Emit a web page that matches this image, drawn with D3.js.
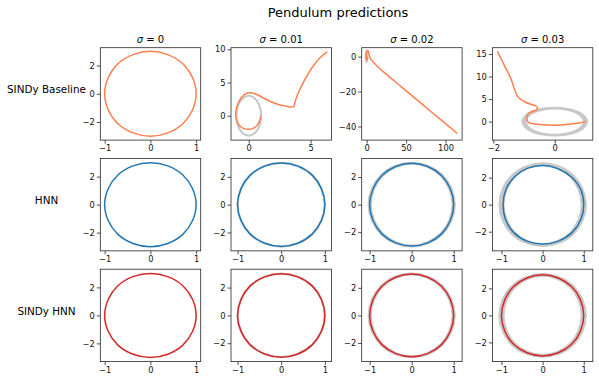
<!DOCTYPE html>
<html>
<head>
<meta charset="utf-8">
<title>Pendulum predictions</title>
<script src="https://cdn.jsdelivr.net/npm/d3@7"></script>
<style>
body { margin: 0; background: #fff; }
text { font-family: "DejaVu Sans", sans-serif; }
</style>
</head>
<body>
<script>
// labels
var rowLabels = ["SINDy Baseline", "HNN", "SINDy HNN"];
var sigmas = [0, 0.01, 0.02, 0.03];
var lineColors = ["#ff7f50", "#1f77b4", "#d62728"];

// true trajectory (q, p)
var trueOrbit = [[1, 0], [0.92, 1.15], [0.71, 2.12], [0.38, 2.77], [0, 3], [-0.38, 2.77], [-0.71, 2.12], [-0.92, 1.15],
                 [-1, 0], [-0.92, -1.15], [-0.71, -2.12], [-0.38, -2.77], [0, -3], [0.38, -2.77], [0.71, -2.12], [0.92, -1.15]];
// HNN prediction at sigma = 0.03 (slightly shrunk)
var hnnOrbit03 = [[1.0, 0], [0.93, 1.1], [0.7, 2.05], [0.36, 2.68], [0.02, 2.9], [-0.36, 2.7], [-0.68, 2.07], [-0.89, 1.12],
                  [-0.96, 0.05], [-0.9, -1.1], [-0.7, -2.07], [-0.37, -2.72], [0.02, -2.92], [0.38, -2.7], [0.72, -2.05], [0.93, -1.1]];
// SINDy baseline predictions
var baseline01 = [[1.0, 0.0], [0.75, -1.3], [0.35, -1.9], [0, -2.05], [-0.45, -1.9], [-0.85, -1.2], [-1.05, 0], [-0.95, 1.4],
                  [-0.6, 2.7], [-0.2, 3.35], [0.2, 3.45], [0.7, 3.15], [1.2, 2.65], [1.8, 2.1], [2.4, 1.7], [3.0, 1.45],
                  [3.45, 1.3], [3.65, 1.4], [3.75, 2.1], [3.95, 3.2], [4.3, 4.6], [4.8, 6.3], [5.3, 7.7], [5.8, 8.8], [6.35, 9.6]];
var baseline02 = [[1, 0], [0.4, -1.8], [-0.5, -1.5], [-0.8, 0.5], [-0.2, 2.5], [0.8, 3.5], [1.6, 3.3], [3, 1.3], [4.5, -0.9],
                  [8, -3], [14, -5.8], [21, -8.6], [40, -15.8], [60, -23.3], [84, -32.4], [100, -38.4], [115, -44]];
var baseline03 = [[-1.87, 15.6], [-1.75, 14.0], [-1.65, 12.6], [-1.53, 11.0], [-1.43, 9.6], [-1.32, 7.4], [-1.21, 5.6],
                  [-1.08, 4.8], [-0.95, 4.3], [-0.75, 3.8], [-0.6, 3.4], [-0.57, 2.7], [-0.7, 2.3], [-0.84, 1.9], [-0.91, 0.8],
                  [-0.86, -0.15], [-0.7, -0.45], [-0.46, -0.66], [0, -0.8], [0.5, -0.55], [0.8, -0.3], [1.02, 0.05]];

var predictions = [
  [trueOrbit, baseline01, baseline02, baseline03],
  [trueOrbit, trueOrbit, trueOrbit, hnnOrbit03],
  [trueOrbit, trueOrbit, trueOrbit, trueOrbit]
];

// axis limits and ticks
var xDomTop = [[-1.095, 1.1], [-1.43, 6.68], [-6.3, 121], [-2.03, 1.24]];
var yDomTop = [[-3.28, 3.26], [-3.67, 10.24], [-47.8, 5.1], [-4.1, 16.4]];
var xTicksTop = [[-1, 0, 1], [0, 5], [0, 50, 100], [-2, 0]];
var yTicksTop = [[-2, 0, 2], [0, 5, 10], [-40, -20, 0], [0, 5, 10, 15]];
var xDomOrbit = [[-1.095, 1.1], [-1.15, 1.15], [-1.19, 1.2], [-1.22, 1.22]];
var yDomOrbit = [[-3.3, 3.3], [-3.32, 3.32], [-3.35, 3.35], [-3.42, 3.42]];
var xTicksOrbit = [-1, 0, 1];
var yTicksOrbit = [-2, 0, 2];

// noise band spread (relative q, p) and marker width per sigma
var bandQ = [0, 0.003, 0.025, 0.045];
var bandP = [0, 0.002, 0.01, 0.016];
var bandW = [0, 2.0, 2.2, 2.5];

//layout
var W = 599, H = 382;
var left0 = 100.3, colStep = 130.7, top0 = 47.7, rowStep = 110.75;
var pw = 100.4, ph = 92.4;

var svg = d3.select("body").append("svg")
    .attr("width", W).attr("height", H);

svg.append("text")
    .attr("x", 338).attr("y", 16.7)
    .attr("text-anchor", "middle")
    .attr("font-size", 13)
    .text("Pendulum predictions");

var fmt = d3.format("d");

rowLabels.forEach(function(label, r) {
  svg.append("text")
     .attr("x", 46.5).attr("y", top0 + r * rowStep + ph / 2 - 0.8)
     .attr("text-anchor", "middle")
     .attr("font-size", 10.4)
     .text(label);

  sigmas.forEach(function(s, c) {
    var gx0 = left0 + c * colStep, gy0 = top0 + r * rowStep;
    var g = svg.append("g").attr("transform", "translate(" + gx0 + "," + gy0 + ")");
    var xd = r == 0 ? xDomTop[c] : xDomOrbit[c];
    var yd = r == 0 ? yDomTop[c] : yDomOrbit[c];
    var x = d3.scaleLinear().domain(xd).range([0, pw]);
    var y = d3.scaleLinear().domain(yd).range([ph, 0]);

    var clipId = "clip" + r + c;
    g.append("clipPath").attr("id", clipId)
     .append("rect").attr("width", pw).attr("height", ph);
    var plot = g.append("g").attr("clip-path", "url(#" + clipId + ")");

    var closedLine = d3.line()
        .x(function(d){ return x(d[0]); })
        .y(function(d){ return y(d[1]); })
        .curve(d3.curveCatmullRomClosed.alpha(0.5));
    var openLine = d3.line()
        .x(function(d){ return x(d[0]); })
        .y(function(d){ return y(d[1]); })
        .curve(d3.curveCatmullRom.alpha(0.5));

    // noisy observations of the true trajectory
    if (s > 0) {
      var outer = trueOrbit.map(function(d){ return [d[0] * (1 + bandQ[c]), d[1] * (1 + bandP[c])]; });
      var inner = trueOrbit.map(function(d){ return [d[0] * (1 - bandQ[c]), d[1] * (1 - bandP[c])]; });
      plot.append("path")
          .attr("d", closedLine(outer) + closedLine(inner))
          .attr("fill", "#c8c8c8")
          .attr("fill-rule", "evenodd")
          .attr("stroke", "#c8c8c8")
          .attr("stroke-width", bandW[c])
          .attr("stroke-linejoin", "round");
    }

    var pred = predictions[r][c];
    var isClosed = pred === trueOrbit || pred === hnnOrbit03;
    plot.append("path")
        .attr("d", isClosed ? closedLine(pred) : openLine(pred))
        .attr("fill", "none")
        .attr("stroke", lineColors[r])
        .attr("stroke-width", 1.5)
        .attr("stroke-linejoin", "round");

    // axes
    var ax = g.append("g")
        .attr("transform", "translate(0," + ph + ")")
        .call(d3.axisBottom(x).tickValues(r == 0 ? xTicksTop[c] : xTicksOrbit)
              .tickFormat(fmt).tickSize(3.5).tickPadding(2).tickSizeOuter(0));
    var ay = g.append("g")
        .call(d3.axisLeft(y).tickValues(r == 0 ? yTicksTop[c] : yTicksOrbit)
              .tickFormat(fmt).tickSize(3.5).tickPadding(2).tickSizeOuter(0));
    [ax, ay].forEach(function(a) {
      a.select(".domain").remove();
      a.attr("font-size", 8.3).attr("font-family", "DejaVu Sans");
      a.selectAll("line").attr("stroke", "#222").attr("stroke-width", 0.8);
      a.selectAll("text").attr("fill", "#111");
    });

    g.append("rect")
     .attr("width", pw).attr("height", ph)
     .attr("fill", "none")
     .attr("stroke", "#262626")
     .attr("stroke-width", 0.8);

    if (r == 0) {
      var t = g.append("text")
          .attr("x", pw / 2).attr("y", -4.3)
          .attr("text-anchor", "middle")
          .attr("font-size", 10);
      t.append("tspan").attr("font-style", "italic").text("σ");
      t.append("tspan").text(" = " + s);
    }
  });
});
</script>
</body>
</html>
